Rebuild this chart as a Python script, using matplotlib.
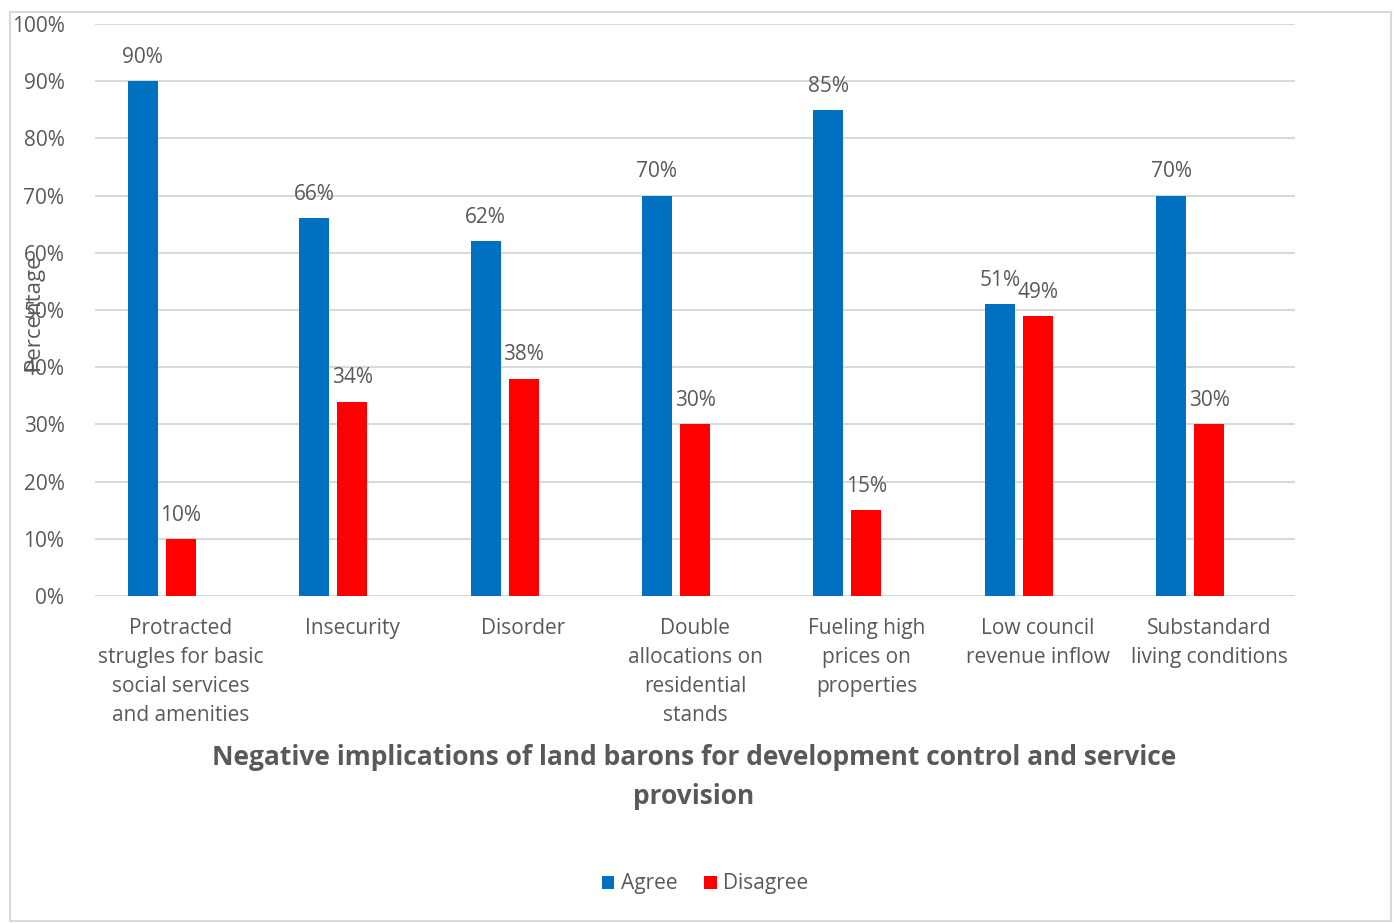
import matplotlib
matplotlib.use("Agg")
import matplotlib.pyplot as plt
from matplotlib.patches import Rectangle

categories = [
    "Protracted\nstrugles for basic\nsocial services\nand amenities",
    "Insecurity",
    "Disorder",
    "Double\nallocations on\nresidential\nstands",
    "Fueling high\nprices on\nproperties",
    "Low council\nrevenue inflow",
    "Substandard\nliving conditions",
]
agree = [90, 66, 62, 70, 85, 51, 70]
disagree = [10, 34, 38, 30, 15, 49, 30]
yticks = [0, 10, 20, 30, 40, 50, 60, 70, 80, 90, 100]

BLUE = "#0070C0"
RED = "#FF0000"
GREY = "#595959"
GRID = "#D9D9D9"
FONT = ["Open Sans", "DejaVu Sans"]
FS = 15

plt.rcParams["font.family"] = FONT

fig = plt.figure(figsize=(13.94, 9.23), dpi=100)
W, H = 1394, 923
ax = fig.add_axes([95 / W, 1 - 596 / H, 1200 / W, 572 / H])

x = list(range(len(categories)))
bw = 0.175
xa = [i - 0.222 for i in x]
xd = [i + 0.0 for i in x]
ax.bar(xa, agree, width=bw, color=BLUE, label="Agree", zorder=3)
ax.bar(xd, disagree, width=bw, color=RED, label="Disagree", zorder=3)

for xi, v in zip(xa, agree):
    ax.text(xi, v + 2.3, f"{v}%", ha="center", va="bottom", fontsize=FS, color=GREY)
for xi, v in zip(xd, disagree):
    ax.text(xi, v + 2.3, f"{v}%", ha="center", va="bottom", fontsize=FS, color=GREY)

ax.set_xlim(-0.5, len(categories) - 0.5)
ax.set_ylim(0, 100)
ax.set_yticks(yticks)
ax.set_yticklabels([f"{t}%" for t in yticks], fontsize=FS, color=GREY)
ax.set_xticks(x)
ax.set_xticklabels(categories, fontsize=FS, color=GREY, linespacing=1.5, va="top")
ax.tick_params(axis="x", length=0, pad=16)
ax.tick_params(axis="y", length=0, pad=22)
for s in ax.spines.values():
    s.set_visible(False)
ax.grid(axis="y", color=GRID, linewidth=1.5, zorder=0)
ax.set_axisbelow(True)

fig.text(33 / W, 1 - 312 / H, "Percentage", rotation=90, ha="center", va="center",
         fontsize=FS + 1, color=GREY)

fig.text(694 / W, 1 - 777 / H,
         "Negative implications of land barons for development control and service\nprovision",
         ha="center", va="center", fontsize=19, fontweight="bold", color=GREY,
         linespacing=1.55)

leg = fig.legend(loc="center", bbox_to_anchor=(705 / W, 1 - 884 / H), ncol=2, frameon=False,
                 fontsize=FS, handlelength=0.6, handleheight=0.6, handletextpad=0.3,
                 columnspacing=1.3)
for t in leg.get_texts():
    t.set_color(GREY)

fig.patches.append(Rectangle((10 / W, 2 / H), 1381 / W, 909 / H, transform=fig.transFigure,
                             fill=False, edgecolor=GRID, linewidth=1.5))

fig.savefig("out.png", dpi=100, facecolor="white")
